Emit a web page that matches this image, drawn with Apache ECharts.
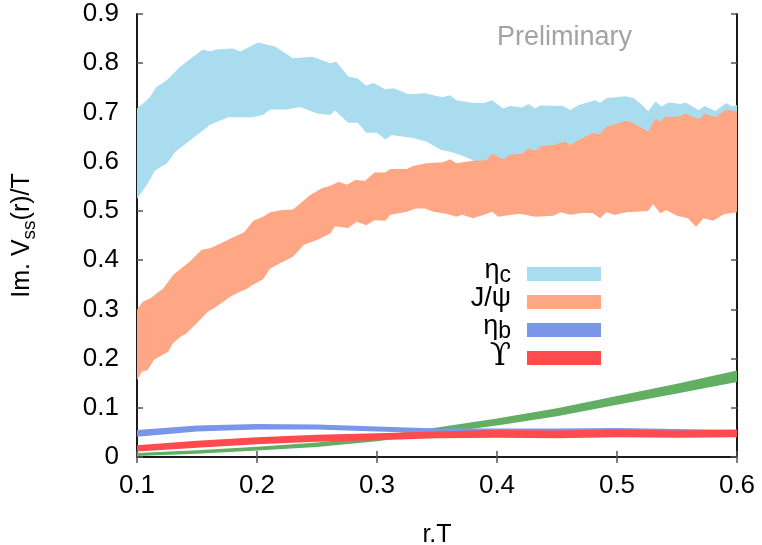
<!DOCTYPE html>
<html>
<head>
<meta charset="utf-8">
<script src="https://cdn.jsdelivr.net/npm/echarts@6/dist/echarts.min.js"></script>
<style>
  html, body { margin: 0; padding: 0; background: #fff; }
  #chart { width: 762px; height: 545px; }
</style>
</head>
<body>
<div id="chart"></div>
<script>
(function () {
  const FONT = '"Liberation Sans", Arial, Helvetica, sans-serif'

  const xTicks = [0.1, 0.2, 0.3, 0.4, 0.5, 0.6]
  const yTicks = [0, 0.1, 0.2, 0.3, 0.4, 0.5, 0.6, 0.7, 0.8, 0.9]

  // eta_c band edges [r.T, Im V/T]
  const etacUpper = [[0.100,0.708],[0.106,0.720],[0.111,0.732],[0.116,0.751],[0.125,0.766],[0.136,0.793],[0.144,0.808],[0.155,0.828],[0.161,0.824],[0.166,0.828],[0.180,0.830],[0.186,0.824],[0.201,0.842],[0.215,0.834],[0.230,0.810],[0.246,0.813],[0.261,0.800],[0.266,0.803],[0.276,0.773],[0.284,0.769],[0.291,0.754],[0.297,0.760],[0.307,0.747],[0.314,0.749],[0.326,0.737],[0.340,0.739],[0.354,0.731],[0.361,0.735],[0.366,0.725],[0.380,0.719],[0.389,0.719],[0.396,0.725],[0.405,0.708],[0.411,0.713],[0.421,0.710],[0.426,0.717],[0.432,0.708],[0.436,0.714],[0.455,0.713],[0.461,0.705],[0.468,0.715],[0.482,0.725],[0.486,0.719],[0.491,0.729],[0.507,0.733],[0.514,0.729],[0.521,0.715],[0.526,0.702],[0.532,0.722],[0.537,0.712],[0.543,0.720],[0.553,0.717],[0.557,0.720],[0.568,0.705],[0.573,0.713],[0.582,0.703],[0.591,0.719],[0.596,0.712],[0.600,0.715]]
  const etacLower = [[0.100,0.524],[0.109,0.556],[0.115,0.582],[0.125,0.597],[0.132,0.620],[0.143,0.641],[0.161,0.675],[0.176,0.690],[0.196,0.690],[0.205,0.695],[0.211,0.706],[0.225,0.706],[0.236,0.711],[0.250,0.698],[0.261,0.695],[0.265,0.704],[0.276,0.679],[0.284,0.679],[0.291,0.659],[0.300,0.659],[0.307,0.645],[0.312,0.654],[0.330,0.648],[0.341,0.641],[0.353,0.624],[0.361,0.620],[0.369,0.614],[0.380,0.603],[0.395,0.590],[0.420,0.585],[0.450,0.585],[0.500,0.590],[0.550,0.600],[0.600,0.605]]

  // J/psi band edges
  const jpsiUpper = [[0.100,0.299],[0.105,0.316],[0.111,0.322],[0.122,0.343],[0.130,0.370],[0.144,0.397],[0.154,0.421],[0.161,0.424],[0.172,0.437],[0.178,0.444],[0.189,0.456],[0.197,0.480],[0.205,0.488],[0.211,0.497],[0.221,0.502],[0.230,0.503],[0.236,0.515],[0.244,0.532],[0.254,0.546],[0.261,0.551],[0.268,0.559],[0.275,0.553],[0.282,0.563],[0.290,0.561],[0.298,0.578],[0.307,0.578],[0.311,0.585],[0.325,0.585],[0.330,0.591],[0.341,0.597],[0.355,0.599],[0.361,0.605],[0.366,0.597],[0.380,0.602],[0.391,0.603],[0.396,0.616],[0.405,0.605],[0.411,0.614],[0.421,0.616],[0.426,0.627],[0.432,0.622],[0.437,0.632],[0.447,0.634],[0.457,0.641],[0.461,0.634],[0.469,0.645],[0.480,0.658],[0.486,0.656],[0.491,0.671],[0.497,0.675],[0.507,0.683],[0.514,0.678],[0.521,0.668],[0.526,0.661],[0.532,0.688],[0.536,0.681],[0.540,0.691],[0.551,0.691],[0.557,0.698],[0.568,0.686],[0.573,0.698],[0.582,0.690],[0.591,0.706],[0.600,0.702]]
  const jpsiLower = [[0.100,0.156],[0.104,0.173],[0.109,0.177],[0.114,0.197],[0.121,0.207],[0.126,0.214],[0.130,0.231],[0.136,0.244],[0.141,0.251],[0.150,0.272],[0.159,0.295],[0.166,0.305],[0.178,0.326],[0.186,0.336],[0.191,0.341],[0.196,0.349],[0.205,0.361],[0.211,0.383],[0.222,0.397],[0.230,0.407],[0.239,0.431],[0.250,0.441],[0.261,0.454],[0.265,0.469],[0.276,0.465],[0.283,0.478],[0.291,0.471],[0.298,0.481],[0.307,0.480],[0.311,0.492],[0.325,0.498],[0.332,0.505],[0.340,0.505],[0.347,0.498],[0.358,0.494],[0.366,0.488],[0.371,0.492],[0.380,0.485],[0.389,0.492],[0.396,0.498],[0.401,0.488],[0.412,0.492],[0.419,0.494],[0.432,0.488],[0.447,0.490],[0.453,0.497],[0.461,0.492],[0.472,0.496],[0.480,0.495],[0.486,0.485],[0.491,0.497],[0.498,0.492],[0.508,0.497],[0.526,0.500],[0.530,0.514],[0.536,0.495],[0.541,0.502],[0.550,0.490],[0.559,0.485],[0.566,0.468],[0.572,0.485],[0.580,0.480],[0.589,0.493],[0.600,0.497]]

  // thin bands share one r.T grid
  const thinX = [0.10, 0.15, 0.20, 0.25, 0.30, 0.35, 0.40, 0.45, 0.50, 0.55, 0.60]
  const etabUpper = [0.055, 0.064, 0.067, 0.066, 0.062, 0.058, 0.058, 0.058, 0.059, 0.057, 0.055]
  const etabLower = [0.041, 0.052, 0.056, 0.056, 0.052, 0.048, 0.048, 0.048, 0.049, 0.047, 0.046]
  const upsUpper = [0.024, 0.033, 0.040, 0.045, 0.048, 0.052, 0.055, 0.054, 0.056, 0.054, 0.056]
  const upsLower = [0.011, 0.019, 0.026, 0.031, 0.034, 0.038, 0.039, 0.038, 0.040, 0.039, 0.040]
  const greenUpper = [0.008, 0.0135, 0.021, 0.0295, 0.042, 0.060, 0.078, 0.099, 0.124, 0.149, 0.1755]
  const greenLower = [0.002, 0.0065, 0.013, 0.0205, 0.032, 0.048, 0.064, 0.083, 0.106, 0.129, 0.1525]

  const COLORS = {
    etac: '#a9dcee',
    jpsi: '#ffa785',
    etab: '#7a96e8',
    ups: '#ff4b4d',
    green: '#62ae62'
  }

  const legendNames = ['etac', 'jpsi', 'etab', 'ups']
  const legendLabels = ['{m|η}{s|c}', '{m|J/ψ}', '{m|η}{s|b}', '{u|ϒ}']

  const RICH = {
    m: { fontFamily: FONT, fontSize: 27, fill: '#000', lineHeight: 34 },
    s: { fontFamily: FONT, fontSize: 23, fill: '#000', verticalAlign: 'bottom' },
    u: { fontFamily: '"DejaVu Serif", "Liberation Serif", serif', fontSize: 31, fill: '#000', lineHeight: 34 }
  }

  function zipEdge(xs, ys) {
    return xs.map((x, i) => [x, ys[i]])
  }

  function bandSeries(name, upper, lower, color) {
    return {
      name,
      type: 'custom',
      coordinateSystem: 'cartesian2d',
      xAxisIndex: 0,
      yAxisIndex: 0,
      silent: true,
      itemStyle: { color },
      data: [upper[0]],
      renderItem: (params, api) => {
        const points = upper.concat(lower.slice().reverse()).map((p) => api.coord(p))
        return {
          type: 'polygon',
          shape: { points },
          style: { fill: color, stroke: null }
        }
      }
    }
  }

  const axisLine = { show: true, lineStyle: { color: '#1a1a1a', width: 2 } }
  const axisTick = { show: true, inside: true, length: 6, lineStyle: { color: '#555', width: 1.5 } }

  const LEGEND_TOP = 267
  const ROW = 28

  const chart = echarts.init(document.getElementById('chart'), null, { renderer: 'canvas' })

  chart.setOption({
    animation: false,
    backgroundColor: '#fff',
    textStyle: { fontFamily: FONT },
    title: {
      text: 'Preliminary',
      left: 497,
      top: 24,
      padding: 0,
      textStyle: { fontFamily: FONT, fontSize: 27, fontWeight: 'normal', color: '#a3a3a3' }
    },
    grid: { left: 137, right: 25, top: 14, bottom: 88, containLabel: false, outerBoundsMode: 'none' },
    // legend keys only; the labels sit in graphic text to the left
    legend: {
      orient: 'vertical',
      right: 161,
      top: LEGEND_TOP,
      padding: 0,
      itemGap: ROW - 14,
      itemWidth: 74,
      itemHeight: 14,
      icon: 'rect',
      selectedMode: false,
      data: legendNames,
      formatter: () => '',
      textStyle: { fontSize: 1 }
    },
    graphic: legendLabels.map((label, i) => ({
      type: 'text',
      right: 762 - 511,
      top: LEGEND_TOP + 7 + i * ROW - 17,
      silent: true,
      style: {
        text: label,
        rich: RICH,
        align: 'right'
      }
    })),
    xAxis: [
      {
        type: 'value',
        position: 'bottom',
        min: xTicks[0],
        max: xTicks[xTicks.length - 1],
        interval: 0.1,
        name: 'r.T',
        nameLocation: 'middle',
        nameGap: 66,
        nameTextStyle: { fontFamily: FONT, fontSize: 25, color: '#000' },
        axisLine,
        axisTick,
        splitLine: { show: false },
        axisLabel: {
          fontFamily: FONT,
          fontSize: 26,
          color: '#000',
          margin: 16,
          formatter: (v) => v.toFixed(1)
        }
      },
      {
        type: 'value',
        position: 'top',
        min: xTicks[0],
        max: xTicks[xTicks.length - 1],
        interval: 0.1,
        axisLine,
        axisTick,
        splitLine: { show: false },
        axisLabel: { show: false }
      }
    ],
    yAxis: [
      {
        type: 'value',
        position: 'left',
        min: yTicks[0],
        max: yTicks[yTicks.length - 1],
        interval: 0.1,
        name: '{n|Im. V}{s|ss}{n|(r)/T}',
        nameLocation: 'middle',
        nameGap: 98,
        nameTextStyle: {
          color: '#000',
          rich: {
            n: { fontFamily: FONT, fontSize: 25, color: '#000', lineHeight: 34 },
            s: { fontFamily: FONT, fontSize: 19, color: '#000', verticalAlign: 'bottom' }
          }
        },
        axisLine,
        axisTick,
        splitLine: { show: false },
        axisLabel: {
          fontFamily: FONT,
          fontSize: 26,
          color: '#000',
          margin: 18,
          formatter: (v) => (v === 0 ? '0' : v.toFixed(1))
        }
      },
      {
        type: 'value',
        position: 'right',
        min: yTicks[0],
        max: yTicks[yTicks.length - 1],
        interval: 0.1,
        axisLine,
        axisTick,
        splitLine: { show: false },
        axisLabel: { show: false }
      }
    ],
    series: [
      bandSeries('etac', etacUpper, etacLower, COLORS.etac),
      bandSeries('jpsi', jpsiUpper, jpsiLower, COLORS.jpsi),
      bandSeries('green', zipEdge(thinX, greenUpper), zipEdge(thinX, greenLower), COLORS.green),
      bandSeries('etab', zipEdge(thinX, etabUpper), zipEdge(thinX, etabLower), COLORS.etab),
      bandSeries('ups', zipEdge(thinX, upsUpper), zipEdge(thinX, upsLower), COLORS.ups)
    ]
  })

  window.addEventListener('resize', () => chart.resize())
})()
</script>
</body>
</html>
